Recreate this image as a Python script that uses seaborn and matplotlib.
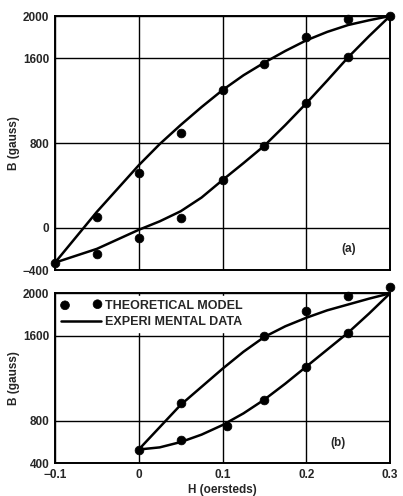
import numpy as np
import pandas as pd
import matplotlib
matplotlib.use("Agg")
import matplotlib.pyplot as plt
import seaborn as sns

# ---- data ----
# (a) experimental curves: ascending / descending branch
h_curve = [-0.1, -0.075, -0.05, -0.025, 0.0, 0.025, 0.05, 0.075, 0.1,
           0.125, 0.15, 0.175, 0.2, 0.225, 0.25, 0.275, 0.3]
a_upper_curve = [-330, -90, 150, 370, 590, 790, 970, 1140, 1300,
                 1440, 1560, 1670, 1770, 1850, 1915, 1960, 2000]
a_lower_curve = [-330, -265, -200, -110, -20, 60, 155, 285, 450,
                 610, 775, 970, 1175, 1390, 1610, 1810, 2000]

# (a) theoretical model points
a_upper_h = [-0.05, 0.0, 0.05, 0.1, 0.15, 0.2, 0.25, 0.3]
a_upper_b = [100, 520, 890, 1300, 1550, 1800, 1970, 2000]
a_lower_h = [-0.1, -0.05, 0.0, 0.05, 0.1, 0.15, 0.2, 0.25]
a_lower_b = [-330, -250, -100, 90, 450, 770, 1180, 1610]

# (b) experimental curves
h_curve_b = [0.0, 0.025, 0.05, 0.075, 0.1, 0.125, 0.15, 0.175, 0.2,
             0.225, 0.25, 0.275, 0.3]
b_upper_curve = [530, 740, 950, 1120, 1290, 1450, 1590, 1690, 1770,
                 1840, 1895, 1950, 2000]
b_lower_curve = [530, 550, 600, 670, 760, 870, 1000, 1150, 1310,
                 1470, 1630, 1810, 2000]

# (b) theoretical model points
b_upper_h = [0.05, 0.15, 0.2, 0.25]
b_upper_b = [965, 1600, 1830, 1975]
b_lower_h = [0.0, 0.05, 0.105, 0.15, 0.2, 0.25, 0.3]
b_lower_b = [530, 620, 750, 1000, 1310, 1630, 2060]

x_ticks = [-0.1, 0, 0.1, 0.2, 0.3]
x_ticklabels = ["\u22120.1", "0", "0.1", "0.2", "0.3"]
a_yticks = [-400, 0, 800, 1600, 2000]
a_yticklabels = ["\u2212400", "0", "800", "1600", "2000"]
b_yticks = [400, 800, 1600, 2000]


def curve_frame(h, upper, lower):
    return pd.DataFrame({
        "H": list(h) * 2,
        "B": list(upper) + list(lower),
        "branch": ["up"] * len(h) + ["down"] * len(h),
    })


def point_frame(hu, bu, hl, bl):
    return pd.DataFrame({"H": list(hu) + list(hl), "B": list(bu) + list(bl)})


sns.set_theme(style="white")
plt.rcParams["font.family"] = ["Liberation Sans", "DejaVu Sans"]
plt.rcParams["font.weight"] = "bold"

fig = plt.figure(figsize=(4.03, 4.96), dpi=100)
ax_a = fig.add_axes([0.1365, 0.4556, 0.8313, 0.5121])
ax_b = fig.add_axes([0.1365, 0.0659, 0.8313, 0.3427])


def style_axis(ax, yticks, ylabels, ylim):
    ax.set_xlim(-0.1, 0.3)
    ax.set_ylim(*ylim)
    ax.set_xticks(x_ticks)
    ax.set_yticks(yticks)
    ax.set_yticklabels(ylabels, fontsize=8.5, fontweight="bold")
    ax.grid(True, color="black", linewidth=1.0)
    ax.set_axisbelow(True)
    for s in ax.spines.values():
        s.set_color("black")
        s.set_linewidth(1.4)
    ax.tick_params(axis="both", direction="out", length=3, width=1,
                   color="black", pad=1)
    ax.set_ylabel("B (gauss)", fontsize=8.5, fontweight="bold", labelpad=2)
    ax.yaxis.set_label_coords(-0.105, 0.5)


# (a)
sns.scatterplot(data=point_frame(a_upper_h, a_upper_b, a_lower_h, a_lower_b),
                x="H", y="B", ax=ax_a, color="black", s=40, edgecolor="black",
                clip_on=False, zorder=4, legend=False)
sns.lineplot(data=curve_frame(h_curve, a_upper_curve, a_lower_curve),
             x="H", y="B", units="branch", estimator=None, sort=False,
             ax=ax_a, color="black", linewidth=1.8, zorder=3, legend=False)
style_axis(ax_a, a_yticks, a_yticklabels, (-400, 2000))
ax_a.set_xticklabels([])
ax_a.set_xlabel("")
ax_a.text(0.251, -204, "(a)", fontsize=8.5, fontweight="bold",
          ha="center", va="center")

# (b)
sns.scatterplot(data=point_frame(b_upper_h, b_upper_b, b_lower_h, b_lower_b),
                x="H", y="B", ax=ax_b, color="black", s=40, edgecolor="black",
                clip_on=False, zorder=4, label="THEORETICAL MODEL")
sns.lineplot(data=curve_frame(h_curve_b, b_upper_curve, b_lower_curve),
             x="H", y="B", units="branch", estimator=None, sort=False,
             ax=ax_b, color="black", linewidth=1.8, zorder=3,
             label="EXPERI MENTAL DATA")
style_axis(ax_b, b_yticks, [str(v) for v in b_yticks], (400, 2000))
ax_b.set_xticklabels(x_ticklabels, fontsize=8.5, fontweight="bold")
ax_b.set_xlabel("H (oersteds)", fontsize=8.5, fontweight="bold", labelpad=2)
ax_b.text(0.238, 591, "(b)", fontsize=8.5, fontweight="bold",
          ha="center", va="center")

handles, labels = ax_b.get_legend_handles_labels()
leg = ax_b.legend(handles[:2], labels[:2], loc="upper left", scatterpoints=2,
                  handlelength=3.2, handletextpad=0.3, borderaxespad=0.2,
                  borderpad=0.3, labelspacing=0.35, frameon=True,
                  fancybox=False, prop={"weight": "bold", "size": 9})
leg.get_frame().set_facecolor("white")
leg.get_frame().set_edgecolor("white")
leg.get_frame().set_alpha(1.0)

fig.savefig("out.png", dpi=100)
